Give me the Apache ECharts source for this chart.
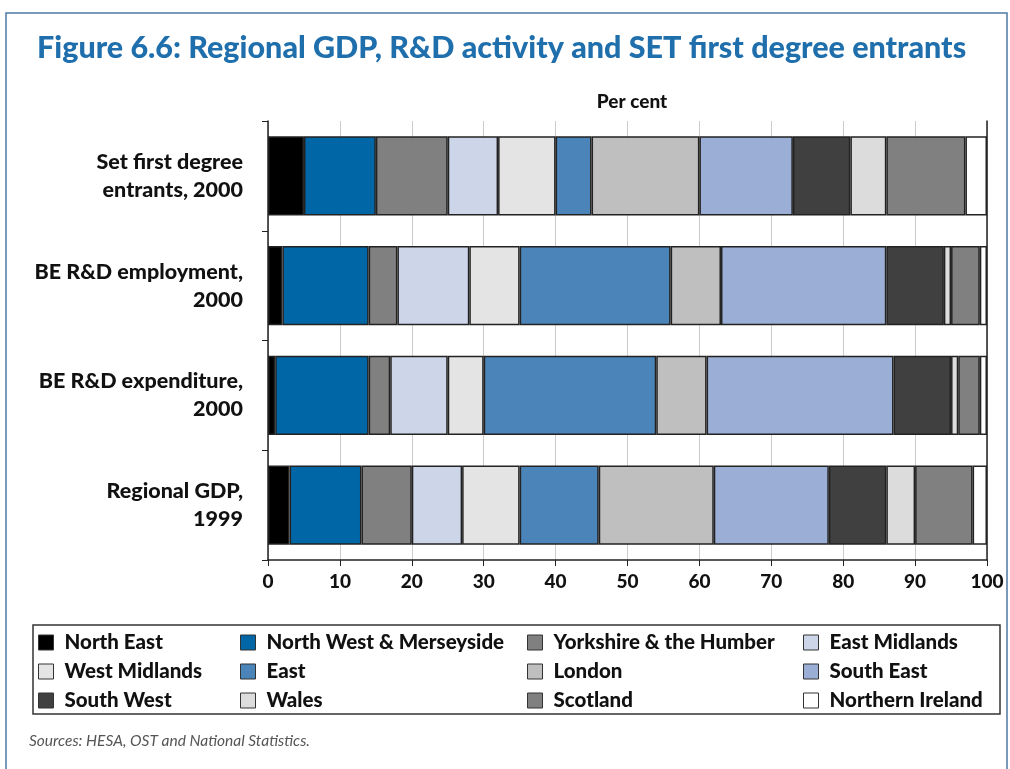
<!DOCTYPE html>
<html>
<head>
<meta charset="utf-8">
<script src="https://cdn.jsdelivr.net/npm/echarts@6/dist/echarts.min.js"></script>
<style>
  html, body { margin: 0; padding: 0; background: #fff; }
  #chart { width: 1010px; height: 769px; }
</style>
</head>
<body>
<div id="chart"></div>
<script>
// rows, top to bottom
const categories = ['Set first degree\nentrants, 2000', 'BE R&D employment,\n2000', 'BE R&D expenditure,\n2000', 'Regional GDP,\n1999'];

const regions = ['North East', 'North West & Merseyside', 'Yorkshire & the Humber', 'East Midlands',
    'West Midlands', 'East', 'London', 'South East', 'South West', 'Wales', 'Scotland', 'Northern Ireland'];

const regionColors = ['#000000', '#0066a6', '#808080', '#cdd6e8', '#e4e4e4', '#4a84b8',
    '#bfbfbf', '#9baed6', '#404040', '#dcdcdc', '#808080', '#ffffff'];

// per cent shares, one value per region (same order as regions)
const setEntrants = [5, 10, 10, 7, 8, 5, 15, 13, 8, 5, 11, 3];
const rdEmployment = [2, 12, 4, 10, 7, 21, 7, 23, 8, 1, 4, 1];
const rdExpenditure = [1, 13, 3, 8, 5, 24, 7, 26, 8, 1, 3, 1];
const regionalGdp = [3, 10, 7, 7, 8, 11, 16, 16, 8, 4, 8, 2];

const xTicks = [0, 10, 20, 30, 40, 50, 60, 70, 80, 90, 100];

const rows = [setEntrants, rdEmployment, rdExpenditure, regionalGdp];

const font = 'Lato, "Open Sans", sans-serif';

const series = regions.map(function(name, i) {
    return {
        name: name,
        type: 'bar',
        stack: 'total',
        barWidth: '72%',
        itemStyle: {
            color: regionColors[i],
            borderColor: '#222',
            borderWidth: 1.5
        },
        data: rows.map(function(r) { return r[i]; })
    };
});

// legend laid out as 4 columns of 3
const legendCols = [38, 240, 527, 803];
const legends = legendCols.map(function(left, c) {
    return {
        orient: 'vertical',
        left: left,
        top: 632,
        padding: 0,
        itemWidth: 15,
        itemHeight: 15,
        itemGap: 8,
        icon: 'rect',
        data: [regions[c], regions[c + 4], regions[c + 8]],
        itemStyle: { borderColor: '#333', borderWidth: 1 },
        textStyle: {
            fontFamily: font,
            fontWeight: 900,
            fontSize: 20.5,
            color: '#111',
            padding: [0, 0, 0, 6]
        }
    };
});

const chart = echarts.init(document.getElementById('chart'));
chart.setOption({
    animation: false,
    backgroundColor: '#fff',
    title: [{
        text: 'Figure 6.6: Regional GDP, R&D activity and SET first degree entrants',
        left: 32,
        top: 28,
        textStyle: { fontFamily: font, fontWeight: 900, fontSize: 30.5, color: '#1f6fad' }
    }, {
        text: 'Per cent',
        left: 627,
        textAlign: 'center',
        top: 87,
        textStyle: { fontFamily: font, fontWeight: 900, fontSize: 19, color: '#111' }
    }, {
        text: 'Sources: HESA, OST and National Statistics.',
        left: 24,
        top: 728,
        textStyle: { fontFamily: font, fontStyle: 'italic', fontWeight: 'normal', fontSize: 15.5, color: '#555' }
    }],
    legend: legends,
    grid: {
        left: 268,
        right: 23,
        top: 121,
        bottom: 209
    },
    xAxis: {
        type: 'value',
        min: 0,
        max: 100,
        interval: 10,
        axisLine: { show: true, lineStyle: { color: '#222', width: 1.5 } },
        axisTick: { show: true, length: 6, lineStyle: { color: '#222' } },
        axisLabel: {
            margin: 12,
            fontFamily: font,
            fontWeight: 900,
            fontSize: 19,
            color: '#111',
            formatter: function(v) { return xTicks.indexOf(v) >= 0 ? String(v) : ''; }
        },
        splitLine: { show: true, lineStyle: { color: '#cccccc', width: 1 } }
    },
    yAxis: [{
        type: 'category',
        inverse: true,
        data: categories,
        axisLine: { show: true, lineStyle: { color: '#222', width: 1.5 } },
        axisTick: { show: true, length: 6, lineStyle: { color: '#222' } },
        axisLabel: {
            margin: 25,
            fontFamily: font,
            fontWeight: 900,
            fontSize: 21.5,
            lineHeight: 28,
            color: '#111',
            align: 'right'
        }
    }, {
        type: 'category',
        inverse: true,
        position: 'right',
        data: categories,
        axisLine: { show: true, lineStyle: { color: '#222', width: 1.5 } },
        axisTick: { show: false },
        axisLabel: { show: false }
    }],
    graphic: [{
        type: 'rect',
        shape: { x: 6, y: 13, width: 1001, height: 800 },
        style: { fill: 'none', stroke: '#4f79a6', lineWidth: 1.5 },
        silent: true
    }, {
        type: 'rect',
        shape: { x: 33, y: 625, width: 967, height: 89 },
        style: { fill: 'none', stroke: '#333', lineWidth: 1.5 },
        silent: true
    }],
    series: series
});
</script>
</body>
</html>
